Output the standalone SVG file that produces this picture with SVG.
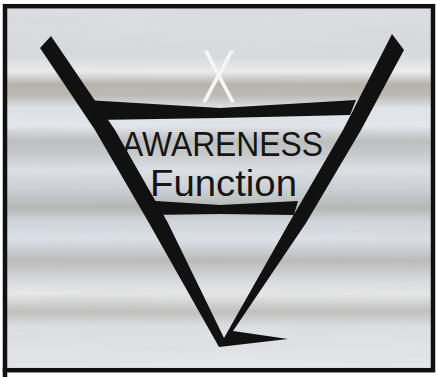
<svg xmlns="http://www.w3.org/2000/svg" width="437" height="377" viewBox="0 0 437 377">
  <defs>
    <linearGradient id="sky" x1="0" y1="0" x2="0" y2="1" gradientUnits="objectBoundingBox">
      <stop offset="0" stop-color="#dcdee2"/>
      <stop offset="0.14" stop-color="#d8dadd"/>
      <stop offset="0.18" stop-color="#ecedee"/>
      <stop offset="0.215" stop-color="#b4b2aa"/>
      <stop offset="0.245" stop-color="#bab8b0"/>
      <stop offset="0.28" stop-color="#dfe3ea"/>
      <stop offset="0.33" stop-color="#e3e6ec"/>
      <stop offset="0.37" stop-color="#bcbebe"/>
      <stop offset="0.40" stop-color="#c4c6c8"/>
      <stop offset="0.45" stop-color="#dce0e6"/>
      <stop offset="0.50" stop-color="#cdd1d6"/>
      <stop offset="0.555" stop-color="#b4b6b4"/>
      <stop offset="0.59" stop-color="#d0d4da"/>
      <stop offset="0.64" stop-color="#dce0e8"/>
      <stop offset="0.70" stop-color="#bababa"/>
      <stop offset="0.75" stop-color="#d6d8dc"/>
      <stop offset="0.79" stop-color="#e8e9eb"/>
      <stop offset="0.84" stop-color="#bfbfbc"/>
      <stop offset="0.88" stop-color="#dcdee2"/>
      <stop offset="1" stop-color="#e6e8ea"/>
    </linearGradient>
    <filter id="streak" x="0" y="0" width="1" height="1">
      <feTurbulence type="fractalNoise" baseFrequency="0.006 0.07" numOctaves="3" seed="7" result="n"/>
      <feColorMatrix in="n" type="matrix" values="0 0 0 0 0.6  0 0 0 0 0.6  0 0 0 0 0.6  0 0 0 0.9 -0.3"/>
    </filter>
    <style>
      .ink { fill: #111111; }
      .label { font-family: "Liberation Sans", Arial, sans-serif; fill: #151515; }
    </style>
  </defs>

  <rect x="0" y="0" width="437" height="377" fill="#ffffff"/>
  <!-- cloudy banded background -->
  <rect x="5" y="6" width="428" height="364" fill="url(#sky)"/>
  <rect x="5" y="6" width="428" height="364" filter="url(#streak)" opacity="0.4"/>

  <!-- frame -->
  <g id="frame" fill="none" stroke="#111111" stroke-width="4.5">
    <rect x="5" y="6.2" width="428" height="364"/>
    <line x1="5" y1="368" x2="5" y2="377"/>
  </g>

  <!-- V symbol -->
  <g id="v-symbol">
    <path class="ink" d="M40,48 L51,36 L115,130 L168,223 L224,338 L289,223 L343,130 L392,34 L404,50 L361,130 L306,223 L233,331 L288,339 L219,347 L149,223 L95,130 Z"/>
    <!-- top bar -->
    <path class="ink" d="M86,100 L220,108 L356,100 L350,115 L220,118 L96,120 Z"/>
    <!-- middle bar -->
    <path class="ink" d="M140,200 L220,205 L298,201 L294,215 L220,214 L148,215 Z"/>
  </g>

  <g id="x-label">
    <text x="218.5" y="102" text-anchor="middle" font-family="'DejaVu Sans', sans-serif" font-weight="200" font-size="70" fill="#f6f6f4" stroke="#f6f6f4" stroke-width="1" textLength="38" lengthAdjust="spacingAndGlyphs">X</text>
  </g>

  <g id="awareness-node">
    <text class="label" x="122" y="156" font-size="35" textLength="201" lengthAdjust="spacingAndGlyphs">AWARENESS</text>
    <text class="label" x="150" y="195.5" font-size="36" textLength="147" lengthAdjust="spacingAndGlyphs">Function</text>
  </g>
</svg>
